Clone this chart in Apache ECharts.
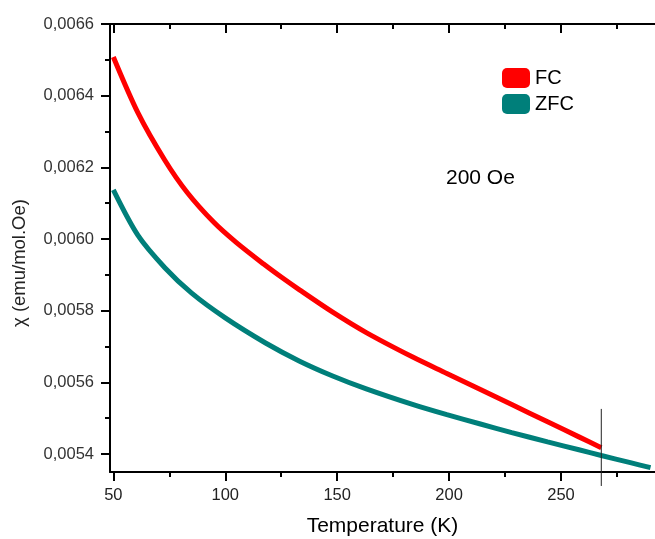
<!DOCTYPE html>
<html>
<head>
<meta charset="utf-8">
<script src="https://cdn.jsdelivr.net/npm/echarts@6/dist/echarts.min.js"></script>
<style>
html,body{margin:0;padding:0;background:#fff;}
#c{width:655px;height:539px;}
</style>
</head>
<body>
<div id="c"></div>
<script>
// Data
const fcT   = [50, 61, 73, 83, 95, 105, 117, 125, 133, 148, 163, 184, 199, 214, 228, 244, 258, 268];
const fcChi = [0.006508, 0.006352, 0.006220, 0.006130, 0.006046, 0.005990, 0.005931, 0.005894, 0.005859, 0.005796, 0.005739, 0.005670, 0.005625, 0.005580, 0.005538, 0.005490, 0.005448, 0.005418];
const zfcT   = [50, 61, 73, 85, 100, 118, 133, 148, 163, 184, 199, 214, 228, 244, 258, 268, 281, 290];
const zfcChi = [0.006137, 0.006010, 0.005920, 0.005849, 0.005780, 0.005710, 0.005660, 0.005618, 0.005582, 0.005538, 0.005510, 0.005484, 0.005460, 0.005434, 0.005412, 0.005396, 0.005376, 0.005362];
const xMajorTicks = [50, 100, 150, 200, 250];
const xMinorTicks = [75, 125, 175, 225, 275];
const yMajorTicks = [0.0054, 0.0056, 0.0058, 0.0060, 0.0062, 0.0064, 0.0066];
const yMinorTicks = [0.0055, 0.0057, 0.0059, 0.0061, 0.0063, 0.0065];
const markerT = [268, 268];
const markerChi = [0.005526, 0.005311];
const seriesNames = ['FC', 'ZFC'];
const fieldLabel = '200 Oe';
const xTitle = 'Temperature (K)';
const yTitle = 'χ (emu/mol.Oe)';

const X_MIN = 48.5, X_MAX = 292, Y_MIN = 0.00535, Y_MAX = 0.0066;
const FONT = '"Liberation Sans", Arial, sans-serif';
const zip = (a, b) => a.map((v, i) => [v, b[i]]);

const chart = echarts.init(document.getElementById('c'), null, {renderer: 'canvas'});
const axisBase = (extra) => Object.assign({
  type: 'value', min: X_MIN, max: X_MAX, gridIndex: 0,
  splitLine: {show: false},
  axisLine: {show: true, onZero: false, lineStyle: {color: '#000', width: 2}},
}, extra);

chart.setOption({
  animation: false,
  backgroundColor: '#fff',
  grid: {left: 110, top: 24, right: 0, bottom: 67, containLabel: false, outerBoundsMode: 'none'},
  legend: {
    orient: 'vertical', left: 502, top: 68, itemGap: 6, padding: 0,
    itemWidth: 28, itemHeight: 20, icon: 'roundRect',
    textStyle: {fontFamily: FONT, fontSize: 20, color: '#000', padding: [0, 0, 0, 0]},
    data: seriesNames
  },
  graphic: [
    {
      type: 'text', left: 446, top: 168,
      style: {text: fieldLabel, font: '21px ' + FONT, fill: '#000'}
    },
    {
      type: 'text', x: 20, y: 263, rotation: Math.PI / 2,
      style: {text: yTitle, font: '18.5px ' + FONT, fill: '#222', align: 'center', verticalAlign: 'middle'}
    }
  ],
  xAxis: [
    axisBase({
      position: 'bottom',
      name: xTitle, nameLocation: 'middle', nameGap: 44,
      nameTextStyle: {fontFamily: FONT, fontSize: 21, color: '#000', verticalAlign: 'top'},
      axisTick: {show: true, inside: false, length: 9, lineStyle: {color: '#000', width: 2}, customValues: xMajorTicks},
      axisLabel: {show: true, customValues: xMajorTicks, fontFamily: FONT, fontSize: 16.5, color: '#222', margin: 15}
    }),
    axisBase({
      position: 'bottom',
      axisLine: {show: false},
      axisTick: {show: true, inside: false, length: 5, lineStyle: {color: '#000', width: 2}, customValues: xMinorTicks},
      axisLabel: {show: false}
    }),
    axisBase({
      position: 'top',
      axisTick: {show: true, inside: true, length: 9, lineStyle: {color: '#000', width: 2}, customValues: xMajorTicks},
      axisLabel: {show: false}
    }),
    axisBase({
      position: 'top',
      axisLine: {show: false},
      axisTick: {show: true, inside: true, length: 5, lineStyle: {color: '#000', width: 2}, customValues: xMinorTicks},
      axisLabel: {show: false}
    })
  ],
  yAxis: [
    {
      type: 'value', min: Y_MIN, max: Y_MAX, position: 'left',
      splitLine: {show: false},
      axisLine: {show: true, onZero: false, lineStyle: {color: '#000', width: 2}},
      axisTick: {show: true, inside: false, length: 9, lineStyle: {color: '#000', width: 2}, customValues: yMajorTicks},
      axisLabel: {show: true, customValues: yMajorTicks, fontFamily: FONT, fontSize: 16.5, color: '#333', margin: 16,
        formatter: v => v.toFixed(4).replace('.', ',')}
    },
    {
      type: 'value', min: Y_MIN, max: Y_MAX, position: 'left',
      splitLine: {show: false},
      axisLine: {show: false},
      axisTick: {show: true, inside: false, length: 5, lineStyle: {color: '#000', width: 2}, customValues: yMinorTicks},
      axisLabel: {show: false}
    }
  ],
  series: [
    {
      name: seriesNames[0], type: 'line', xAxisIndex: 0, yAxisIndex: 0,
      data: zip(fcT, fcChi), showSymbol: false, smooth: 0.3,
      itemStyle: {color: '#ff0000'},
      lineStyle: {color: '#ff0000', width: 5}, z: 3
    },
    {
      name: seriesNames[1], type: 'line', xAxisIndex: 0, yAxisIndex: 0,
      data: zip(zfcT, zfcChi), showSymbol: false, smooth: 0.3,
      itemStyle: {color: '#007f7a'},
      lineStyle: {color: '#007f7a', width: 5}, z: 2
    },
    {
      name: 'marker', type: 'line', xAxisIndex: 0, yAxisIndex: 0, clip: false,
      data: zip(markerT, markerChi), showSymbol: false, silent: true,
      lineStyle: {color: '#222', width: 1}, z: 4
    }
  ]
});
</script>
</body>
</html>
